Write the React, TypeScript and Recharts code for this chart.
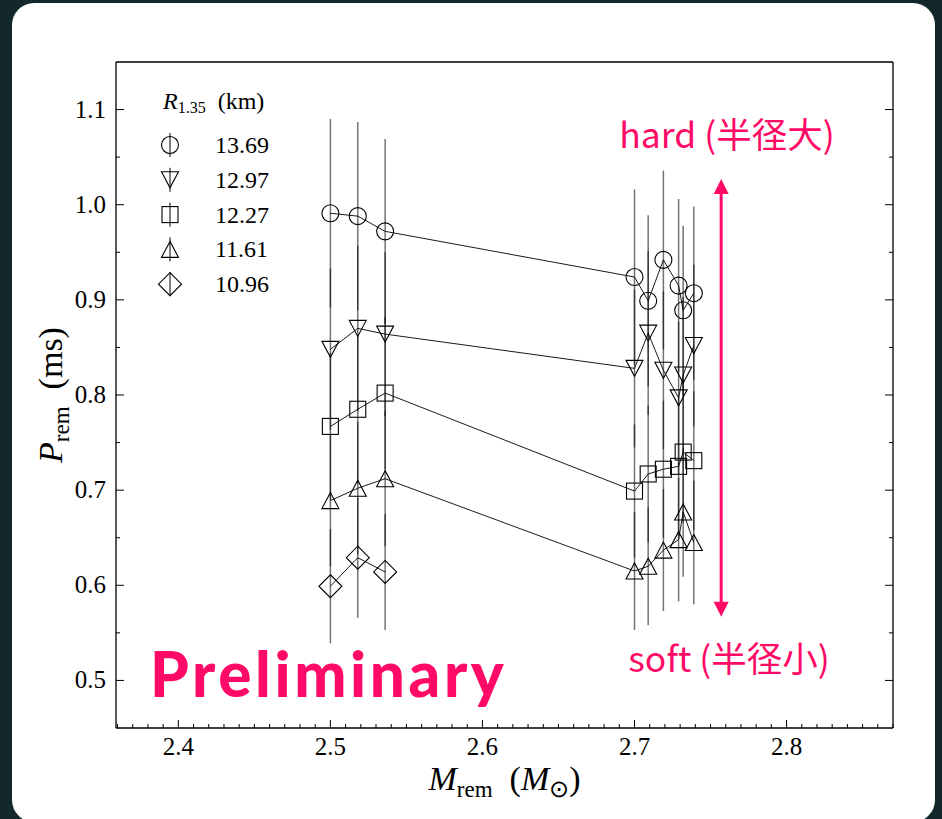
import React from 'react';
import { ScatterChart, Scatter, XAxis, YAxis, ErrorBar, ReferenceLine, Legend, Label } from 'recharts';

// ---- data ----
const masses = [2.5, 2.518, 2.536, 2.7, 2.709, 2.719, 2.729, 2.732, 2.739];
const radiusLabels = ['13.69', '12.97', '12.27', '11.61', '10.96'];
const p1369 = [0.991, 0.988, 0.972, 0.924, 0.899, 0.942, 0.915, 0.889, 0.907];
const e1369 = [0.099, 0.099, 0.097, 0.092, 0.090, 0.094, 0.091, 0.089, 0.091];
const p1297 = [0.848, 0.870, 0.864, 0.828, 0.865, 0.826, 0.797, 0.821, 0.852];
const e1297 = [0.085, 0.087, 0.086, 0.083, 0.086, 0.083, 0.080, 0.082, 0.085];
const p1227 = [0.767, 0.785, 0.802, 0.699, 0.717, 0.722, 0.725, 0.740, 0.731];
const e1227 = [0.077, 0.078, 0.080, 0.070, 0.072, 0.072, 0.073, 0.074, 0.073];
const p1161 = [0.689, 0.702, 0.712, 0.615, 0.620, 0.637, 0.648, 0.677, 0.645];
const e1161 = [0.069, 0.070, 0.071, 0.062, 0.062, 0.064, 0.065, 0.068, 0.065];
const p1096 = [0.599, 0.629, 0.614];
const e1096 = [0.060, 0.063, 0.061];

const xMajor = [2.4, 2.5, 2.6, 2.7, 2.8];
const yMajor = [0.5, 0.6, 0.7, 0.8, 0.9, 1.0, 1.1];
const xDomain = [2.359, 2.87];
const yDomain = [0.45, 1.15];
const arrowMass = 2.757;
const arrowRange = [1.027, 0.567];

const PINK = '#ff0a66';
const SERIF = '"Liberation Serif", "Times New Roman", serif';
const CJK = '"Noto Sans CJK JP", "Noto Sans", sans-serif';

const build = (p: number[], e: number[]) => p.map((v, i) => ({ m: masses[i], p: v, e: e[i] }));
const d1369 = build(p1369, e1369);
const d1297 = build(p1297, e1297);
const d1227 = build(p1227, e1227);
const d1161 = build(p1161, e1161);
const d1096 = build(p1096, e1096);

const xTicks: number[] = [];
for (let i = 0; i <= 51; i++) xTicks.push(Math.round((2.36 + i * 0.01) * 100) / 100);
const yTicks: number[] = [];
for (let i = 0; i <= 12; i++) yTicks.push(Math.round((0.5 + i * 0.05) * 100) / 100);

const isMajorX = (v: number) => xMajor.some((t) => Math.abs(t - v) < 1e-6);
const isMajorY = (v: number) => yMajor.some((t) => Math.abs(t - v) < 1e-6);

// ---- marker shapes ----
const SW = 1.1;
const CircleM = ({ cx, cy }: any) => <circle cx={cx} cy={cy} r={8.5} fill="none" stroke="#000" strokeWidth={SW} />;
const TriDownM = ({ cx, cy }: any) => (
  <polygon points={`${cx - 8.5},${cy - 8} ${cx + 8.5},${cy - 8} ${cx},${cy + 8}`} fill="none" stroke="#000" strokeWidth={SW} />
);
const SquareM = ({ cx, cy }: any) => <rect x={cx - 8} y={cy - 8} width={16} height={16} fill="none" stroke="#000" strokeWidth={SW} />;
const TriUpM = ({ cx, cy }: any) => (
  <polygon points={`${cx},${cy - 8} ${cx - 8.5},${cy + 8} ${cx + 8.5},${cy + 8}`} fill="none" stroke="#000" strokeWidth={SW} />
);
const DiamondM = ({ cx, cy }: any) => (
  <polygon points={`${cx},${cy - 11.5} ${cx + 11.5},${cy} ${cx},${cy + 11.5} ${cx - 11.5},${cy}`} fill="none" stroke="#000" strokeWidth={SW} />
);
const shapes = [CircleM, TriDownM, SquareM, TriUpM, DiamondM];

// ---- ticks ----
const XTickBottom = ({ x, y, payload }: any) => {
  const v = payload.value;
  const major = isMajorX(v);
  return (
    <g>
      <line x1={x} x2={x} y1={y} y2={y - (major ? 8 : 4)} stroke="#000" strokeWidth={1} />
      {major && (
        <text x={x} y={y + 27} textAnchor="middle" fontFamily={SERIF} fontSize={25} fill="#000">
          {v.toFixed(1)}
        </text>
      )}
    </g>
  );
};
const XTickTop = ({ x, y, payload }: any) => {
  const major = isMajorX(payload.value);
  return <line x1={x} x2={x} y1={y} y2={y + (major ? 8 : 4)} stroke="#000" strokeWidth={1} />;
};
const YTickLeft = ({ x, y, payload }: any) => {
  const v = payload.value;
  const major = isMajorY(v);
  return (
    <g>
      <line x1={x} x2={x + (major ? 8 : 4)} y1={y} y2={y} stroke="#000" strokeWidth={1} />
      {major && (
        <text x={x - 10} y={y + 8} textAnchor="end" fontFamily={SERIF} fontSize={25} fill="#000">
          {v.toFixed(1)}
        </text>
      )}
    </g>
  );
};
const YTickRight = ({ x, y, payload }: any) => {
  const major = isMajorY(payload.value);
  return <line x1={x} x2={x - (major ? 8 : 4)} y1={y} y2={y} stroke="#000" strokeWidth={1} />;
};

const XTitle = ({ viewBox }: any) => {
  const cx = viewBox.x + viewBox.width / 2;
  const y = viewBox.y + 62;
  return (
    <text x={cx} y={y} textAnchor="middle" fontFamily={SERIF} fontSize={34} fill="#000">
      <tspan fontStyle="italic">M</tspan>
      <tspan fontSize={23} dy={7}>rem</tspan>
      <tspan dy={-7}>{'\u2002('}</tspan>
      <tspan fontStyle="italic">M</tspan>
      <tspan fontSize={24} dy={7}>⊙</tspan>
      <tspan dy={-7}>)</tspan>
    </text>
  );
};
const YTitle = ({ viewBox }: any) => {
  const cy = viewBox.y + viewBox.height / 2;
  const x = 62;
  return (
    <text x={x} y={cy} transform={`rotate(-90, ${x}, ${cy})`} textAnchor="middle" fontFamily={SERIF} fontSize={34} fill="#000">
      <tspan fontStyle="italic">P</tspan>
      <tspan fontSize={23} dy={7}>rem</tspan>
      <tspan dy={-7}>{'\u2002(ms)'}</tspan>
    </text>
  );
};

const ArrowShape = (props: any) => {
  const { x1, y1, x2, y2 } = props;
  const top = Math.min(y1, y2);
  const bot = Math.max(y1, y2);
  const x = x1;
  const hw = 7.5;
  const hl = 15;
  return (
    <g>
      <line x1={x} x2={x} y1={top + hl - 1} y2={bot - hl + 1} stroke={PINK} strokeWidth={3} />
      <polygon points={`${x},${top} ${x - hw},${top + hl} ${x + hw},${top + hl}`} fill={PINK} />
      <polygon points={`${x},${bot} ${x - hw},${bot - hl} ${x + hw},${bot - hl}`} fill={PINK} />
    </g>
  );
};

const LegendContent = () => (
  <svg width={150} height={230} style={{ overflow: 'visible', display: 'block' }}>
    <text x={13} y={27} fontFamily={SERIF} fontSize={24} fill="#000">
      <tspan fontStyle="italic">R</tspan>
      <tspan fontSize={16} dy={4}>1.35</tspan>
      <tspan dy={-4}>{'\u2002(km)'}</tspan>
    </text>
    {radiusLabels.map((lab, i) => {
      const cy = 63 + i * 34.8;
      const S = shapes[i];
      return (
        <g key={lab}>
          <line x1={20} x2={20} y1={cy - 12} y2={cy + 12} stroke="#000" strokeWidth={1} />
          <S cx={20} cy={cy} />
          <text x={65} y={cy + 8} fontFamily={SERIF} fontSize={24} fill="#000">
            {lab}
          </text>
        </g>
      );
    })}
  </svg>
);

const series = [d1369, d1297, d1227, d1161, d1096];
const axisLineStyle = { stroke: '#000', strokeWidth: 1.3 };

export default function App() {
  return (
    <div style={{ position: 'fixed', left: 0, top: 0, width: 942, height: 819, background: '#13282a', overflow: 'hidden' }}>
      <div style={{ position: 'absolute', left: 12, top: 3, width: 923, height: 819, background: '#ffffff', borderRadius: 22 }} />
      <div style={{ position: 'absolute', left: 0, top: 0 }}>
        <ScatterChart width={942} height={819} margin={{ top: 61, right: 48, bottom: 90, left: 115 }}>
          <XAxis
            xAxisId={0}
            dataKey="m"
            type="number"
            domain={xDomain}
            allowDataOverflow
            ticks={xTicks}
            interval={0}
            height={1}
            tickSize={0}
            tickMargin={0}
            tickLine={false}
            tick={<XTickBottom />}
            axisLine={axisLineStyle}
          >
            <Label content={<XTitle />} />
          </XAxis>
          <XAxis
            xAxisId="top"
            orientation="top"
            type="number"
            domain={xDomain}
            allowDataOverflow
            ticks={xTicks}
            interval={0}
            height={1}
            tickSize={0}
            tickMargin={0}
            tickLine={false}
            tick={<XTickTop />}
            axisLine={axisLineStyle}
          />
          <YAxis
            yAxisId={0}
            dataKey="p"
            type="number"
            domain={yDomain}
            allowDataOverflow
            ticks={yTicks}
            interval={0}
            width={1}
            tickSize={0}
            tickMargin={0}
            tickLine={false}
            tick={<YTickLeft />}
            axisLine={axisLineStyle}
          >
            <Label content={<YTitle />} />
          </YAxis>
          <YAxis
            yAxisId="right"
            orientation="right"
            type="number"
            domain={yDomain}
            allowDataOverflow
            ticks={yTicks}
            interval={0}
            width={1}
            tickSize={0}
            tickMargin={0}
            tickLine={false}
            tick={<YTickRight />}
            axisLine={axisLineStyle}
          />
          <ReferenceLine
            xAxisId={0}
            yAxisId={0}
            segment={[
              { x: arrowMass, y: arrowRange[0] },
              { x: arrowMass, y: arrowRange[1] },
            ]}
            shape={ArrowShape}
            ifOverflow="visible"
          />
          {series.map((d, i) => (
            <Scatter
              key={radiusLabels[i]}
              name={radiusLabels[i]}
              data={d}
              xAxisId={0}
              yAxisId={0}
              shape={shapes[i]}
              line={{ stroke: '#000', strokeWidth: 0.9 }}
              lineType="joint"
              isAnimationActive={false}
            >
              <ErrorBar dataKey="e" direction="y" width={0} stroke="#000" strokeOpacity={0.55} strokeWidth={1.5} />
            </Scatter>
          ))}
          <Legend
            layout="vertical"
            align="center"
            verticalAlign="middle"
            content={<LegendContent />}
            wrapperStyle={{ left: 150, top: 82, width: 150, height: 230 }}
          />
        </ScatterChart>
      </div>
      <svg width={942} height={819} style={{ position: 'absolute', left: 0, top: 0, pointerEvents: 'none' }}>
        <text x={727} y={148} textAnchor="middle" fontFamily={CJK} fontSize={35.5} fill={PINK}>
          hard (半径大)
        </text>
        <text x={729} y={672} textAnchor="middle" fontFamily={CJK} fontSize={35.5} fill={PINK}>
          soft (半径小)
        </text>
        <text x={150} y={697} fontFamily='Lato, "Noto Sans", sans-serif' fontWeight={900} fontSize={62} letterSpacing={3.6} fill={PINK}>
          Preliminary
        </text>
      </svg>
    </div>
  );
}
